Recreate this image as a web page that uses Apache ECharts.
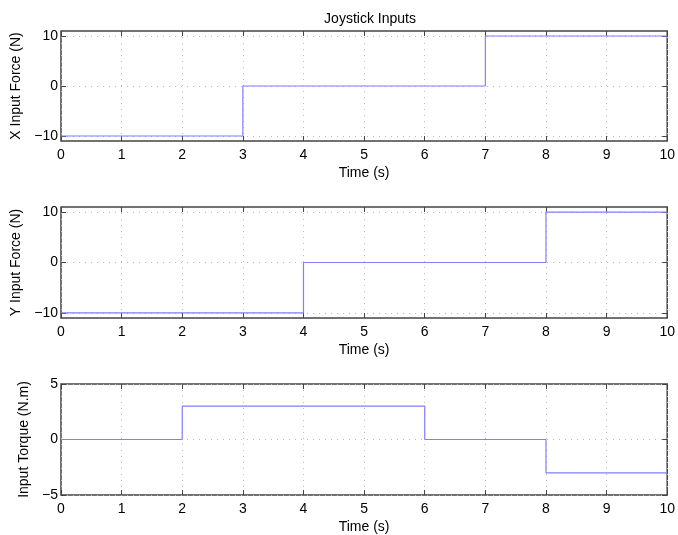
<!DOCTYPE html>
<html>
<head>
<meta charset="utf-8">
<script src="https://cdn.jsdelivr.net/npm/echarts@6/dist/echarts.min.js"></script>
<style>html,body{margin:0;padding:0;background:#fff}#c{width:678px;height:535px}</style>
</head>
<body>
<div id="c"></div>
<script>
const titleText = 'Joystick Inputs';
const xName = 'Time (s)';
const xTicks = [0,1,2,3,4,5,6,7,8,9,10];

const forceTicks = [-10, 0, 10];
const torqueTicks = [-5, 0, 5];

const xForceTimes = [0, 3, 7, 10];
const xForceVals  = [-10, 0, 10, 10];

const yForceTimes = [0, 4, 8, 10];
const yForceVals  = [-10, 0, 10, 10];

const torqueTimes = [0, 2, 6, 8, 10];
const torqueVals  = [0, 3, 0, -3, -3];

const panelNames = ['X Input Force (N)', 'Y Input Force (N)', 'Input Torque (N.m)'];

const FONT = 'Liberation Sans';
const FS = 14;
const fmt = v => (v < 0 ? '\u2212' + Math.abs(v) : String(v));

const grids = [
  {left: 61, right: 8, top: 31, height: 110},
  {left: 61, right: 8, top: 207, height: 111},
  {left: 61, right: 8, top: 384, height: 111}
];
const yRanges = [
  {min: -11, max: 11, ticks: forceTicks, gap: 36},
  {min: -11, max: 11, ticks: forceTicks, gap: 36},
  {min: -5, max: 5, ticks: torqueTicks, gap: 26}
];
const seriesData = [
  [xForceTimes, xForceVals],
  [yForceTimes, yForceVals],
  [torqueTimes, torqueVals]
];

const tickStyle = {show: true, inside: true, length: 5, lineStyle: {color: '#444', width: 1}};
const xAxes = [], yAxes = [], series = [];
grids.forEach((g, i) => {
  g.show = true; g.borderColor = '#444'; g.borderWidth = 1.5; g.backgroundColor = '#fff';
  xAxes.push({
    type: 'value', gridIndex: i, min: 0, max: 10, interval: 1, position: 'bottom',
    name: xName, nameLocation: 'middle', nameGap: 25,
    nameTextStyle: {fontFamily: FONT, fontSize: FS, color: '#000'},
    axisLine: {show: false, onZero: false},
    axisTick: Object.assign({}, tickStyle, {customValues: xTicks}),
    axisLabel: {fontFamily: FONT, fontSize: FS, color: '#000', margin: 7, customValues: xTicks},
    splitLine: {show: true, lineStyle: {color: '#bbb', type: [1, 5], width: 1}}
  });
  xAxes.push({
    type: 'value', gridIndex: i, min: 0, max: 10, interval: 1, position: 'top',
    axisLine: {show: false, onZero: false},
    axisTick: Object.assign({}, tickStyle, {customValues: xTicks}),
    axisLabel: {show: false}, splitLine: {show: false}
  });
  const r = yRanges[i];
  yAxes.push({
    type: 'value', gridIndex: i, min: r.min, max: r.max, position: 'left',
    name: panelNames[i], nameLocation: 'middle', nameGap: r.gap, nameRotate: 90,
    nameTextStyle: {fontFamily: FONT, fontSize: FS, color: '#000'},
    axisLine: {show: false, onZero: false},
    axisTick: Object.assign({}, tickStyle, {customValues: r.ticks}),
    axisLabel: {fontFamily: FONT, fontSize: FS, color: '#000', margin: 3, customValues: r.ticks, formatter: fmt},
    splitLine: {show: true, lineStyle: {color: '#bbb', type: [1, 5], width: 1}}
  });
  yAxes.push({
    type: 'value', gridIndex: i, min: r.min, max: r.max, position: 'right',
    axisLine: {show: false, onZero: false},
    axisTick: Object.assign({}, tickStyle, {customValues: r.ticks}),
    axisLabel: {show: false}, splitLine: {show: false}
  });
  const [ts, vs] = seriesData[i];
  series.push({
    type: 'line', xAxisIndex: 2 * i, yAxisIndex: 2 * i, step: 'end',
    data: ts.map((t, k) => [t, vs[k]]),
    showSymbol: false, symbol: 'none', animation: false,
    lineStyle: {color: '#7f7fff', width: 1.2}
  });
});

const chart = echarts.init(document.getElementById('c'), null, {renderer: 'canvas'});
chart.setOption({
  backgroundColor: '#fff',
  animation: false,
  title: {
    text: titleText, left: 365, top: 7, textAlign: 'center',
    textStyle: {fontFamily: FONT, fontSize: 14, fontWeight: 'normal', color: '#000'}
  },
  grid: grids,
  xAxis: xAxes,
  yAxis: yAxes,
  series: series
});
</script>
</body>
</html>
